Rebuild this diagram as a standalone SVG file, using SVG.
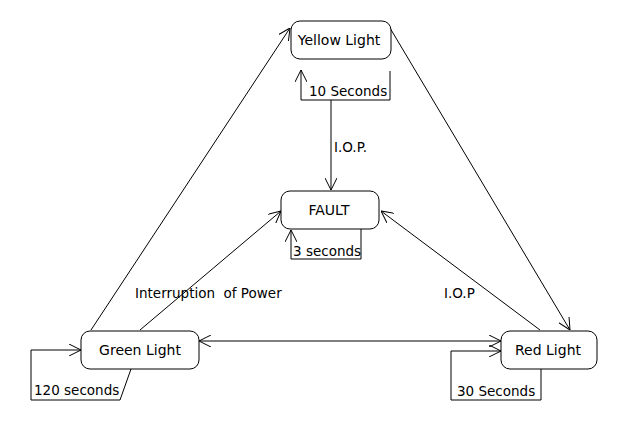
<svg xmlns="http://www.w3.org/2000/svg" width="620" height="440" viewBox="0 0 620 440">
<defs>
<marker id="arr" viewBox="0 0 12 12" refX="12" refY="6" markerWidth="12" markerHeight="12" markerUnits="userSpaceOnUse" orient="auto-start-reverse">
<path d="M0,0 L12,6 L0,12" fill="none" stroke="#000" stroke-width="1"/>
</marker>
</defs>
<style>
rect.node{fill:#fff;stroke:#000;stroke-width:1}
.c{fill:none;stroke:#000;stroke-width:1}
text{font-family:"DejaVu Sans","Liberation Sans",sans-serif;font-size:13.5px;fill:#000}
text.n{font-size:14px}
</style>
<rect width="620" height="440" fill="#fff"/>
<g id="connectors">
<polyline class="c" points="301,100 390,100 390,71"/>
<line class="c" x1="301" y1="100" x2="301" y2="70" marker-end="url(#arr)"/>
<text x="309" y="96">10 Seconds</text>
<line class="c" x1="331" y1="100" x2="331" y2="190" marker-end="url(#arr)"/>
<text x="334" y="152">I.O.P.</text>
<polyline class="c" points="361,229 361,259 291,259"/>
<line class="c" x1="291" y1="259" x2="291" y2="230" marker-end="url(#arr)"/>
<text x="293" y="256">3 seconds</text>
<line class="c" x1="91" y1="330" x2="290" y2="28" marker-end="url(#arr)"/>
<line class="c" x1="390" y1="28" x2="570" y2="330" marker-end="url(#arr)"/>
<line class="c" x1="140" y1="330" x2="281" y2="211" marker-end="url(#arr)"/>
<line class="c" x1="540" y1="330" x2="381" y2="211" marker-end="url(#arr)"/>
<text x="135" y="298" xml:space="preserve" style="white-space:pre">Interruption  of Power</text>
<text x="444" y="298">I.O.P</text>
<line class="c" x1="199" y1="341" x2="501" y2="341" marker-start="url(#arr)" marker-end="url(#arr)"/>
<polyline class="c" points="131,369 120,400 31,400 31,350 81,350" marker-end="url(#arr)"/>
<text x="34" y="395">120 seconds</text>
<polyline class="c" points="541,369 541,400 451,400 451,351 501,351" marker-end="url(#arr)"/>
<text x="457" y="396">30 Seconds</text>
</g>
<g id="yellow">
<rect class="node" x="291" y="21" width="100" height="38" rx="9"/>
<text class="n" x="339" y="45" text-anchor="middle">Yellow Light</text>
</g>
<g id="fault">
<rect class="node" x="281" y="191" width="98" height="38" rx="9"/>
<text class="n" x="329" y="215" text-anchor="middle">FAULT</text>
</g>
<g id="green">
<rect class="node" x="81" y="331" width="118" height="38" rx="9"/>
<text class="n" x="140" y="355" text-anchor="middle">Green Light</text>
</g>
<g id="red">
<rect class="node" x="501" y="331" width="96" height="38" rx="9"/>
<text class="n" x="548" y="355" text-anchor="middle">Red Light</text>
</g>
</svg>
